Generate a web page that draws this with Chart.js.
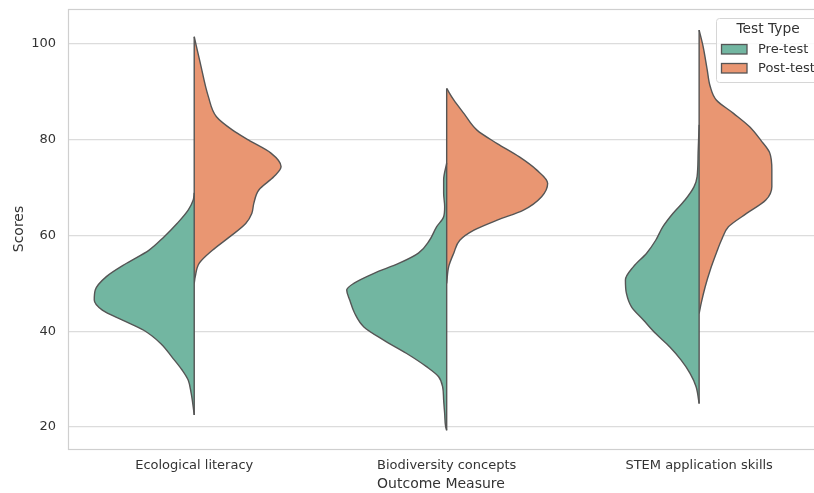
<!DOCTYPE html>
<html>
<head>
<meta charset="utf-8">
<script src="https://cdn.jsdelivr.net/npm/chart.js@4.4.1/dist/chart.umd.min.js"></script>
<style>
html,body{margin:0;padding:0;background:#fff;}
#wrap{width:814px;height:493px;position:relative;}
</style>
</head>
<body>
<div id="wrap"><canvas id="c" width="814" height="493"></canvas></div>
<script>
// ---- data ----
const categories = ['Ecological literacy', 'Biodiversity concepts', 'STEM application skills'];
const seriesNames = ['Pre-test', 'Post-test'];
const yTicks = [20, 40, 60, 80, 100];

// Kernel density profiles (score, relative density) for each half violin
const ecoPreScores   = [68.9, 67.4, 65.3, 62.5, 59.7, 56.9, 54.2, 51.4, 48.6, 46.5, 44.4, 42.3, 40.2, 37.4, 34.6, 31.9, 29.8, 27.0, 24.2, 22.5];
const ecoPreDensity  = [0, 0.01, 0.06, 0.17, 0.30, 0.45, 0.67, 0.87, 0.98, 0.99, 0.91, 0.71, 0.50, 0.33, 0.22, 0.12, 0.06, 0.03, 0.01, 0];
const ecoPostScores  = [101.5, 96.0, 89.0, 84.8, 82.0, 79.9, 77.2, 74.4, 72.3, 69.5, 66.7, 64.6, 62.5, 59.7, 56.9, 54.2, 51.4, 50.0];
const ecoPostDensity = [0, 0.06, 0.14, 0.22, 0.38, 0.54, 0.76, 0.86, 0.79, 0.64, 0.59, 0.57, 0.51, 0.35, 0.18, 0.05, 0.01, 0];

const bioPreScores   = [75.1, 71.6, 68.8, 66.0, 63.9, 61.8, 59.0, 56.3, 54.2, 52.1, 50.0, 48.6, 46.5, 43.7, 40.9, 38.1, 35.4, 32.6, 30.5, 28.4, 25.6, 22.8, 20.0, 19.3];
const bioPreDensity  = [0, 0.03, 0.03, 0.02, 0.03, 0.10, 0.17, 0.28, 0.47, 0.72, 0.92, 0.99, 0.96, 0.91, 0.82, 0.62, 0.40, 0.20, 0.08, 0.04, 0.03, 0.02, 0.01, 0];
const bioPostScores  = [90.7, 88.3, 85.5, 82.0, 79.2, 76.4, 73.7, 70.9, 68.1, 65.3, 63.2, 61.1, 59.0, 56.3, 53.5, 50.0];
const bioPostDensity = [0, 0.07, 0.17, 0.30, 0.50, 0.72, 0.89, 1.00, 0.94, 0.76, 0.50, 0.27, 0.13, 0.07, 0.02, 0];

const stemPreScores   = [83.1, 77.2, 72.3, 70.2, 67.4, 64.6, 61.8, 59.0, 56.3, 53.5, 50.7, 47.9, 45.1, 42.3, 39.5, 36.7, 34.0, 31.2, 28.4, 24.9];
const stemPreDensity  = [0, 0.01, 0.02, 0.05, 0.14, 0.26, 0.36, 0.43, 0.52, 0.65, 0.73, 0.72, 0.67, 0.55, 0.43, 0.29, 0.18, 0.09, 0.03, 0];
const stemPostScores  = [102.9, 99.4, 94.6, 91.1, 88.3, 85.5, 82.7, 79.9, 77.2, 73.7, 70.2, 67.4, 64.6, 61.8, 59.0, 56.3, 52.8, 49.3, 45.8, 43.7];
const stemPostDensity = [0, 0.04, 0.08, 0.11, 0.17, 0.34, 0.50, 0.61, 0.70, 0.72, 0.72, 0.66, 0.47, 0.29, 0.22, 0.17, 0.11, 0.06, 0.02, 0];

// ---- styling ----
const preColor = '#72b6a1';
const postColor = '#e99672';
const edgeColor = '#555555';
const halfWidth = 0.4;
const fontFamily = '"DejaVu Sans", sans-serif';

const halves = [
  {cat: 0, side: -1, s: ecoPreScores,  d: ecoPreDensity,  color: preColor},
  {cat: 0, side:  1, s: ecoPostScores, d: ecoPostDensity, color: postColor},
  {cat: 1, side: -1, s: bioPreScores,  d: bioPreDensity,  color: preColor},
  {cat: 1, side:  1, s: bioPostScores, d: bioPostDensity, color: postColor},
  {cat: 2, side: -1, s: stemPreScores, d: stemPreDensity, color: preColor},
  {cat: 2, side:  1, s: stemPostScores,d: stemPostDensity,color: postColor}
];

const datasets = [];
halves.forEach(h => {
  datasets.push({
    label: h.side < 0 ? seriesNames[0] : seriesNames[1],
    data: h.s.map((v, i) => ({x: h.cat + h.side * h.d[i] * halfWidth, y: v})),
    borderColor: edgeColor,
    borderWidth: 1.4,
    backgroundColor: h.color,
    fill: {value: h.cat},
    pointRadius: 0,
    cubicInterpolationMode: 'monotone',
    order: 2
  });
});
// centre lines
for (let c = 0; c < categories.length; c++) {
  const pair = halves.filter(h => h.cat === c);
  const all = pair.flatMap(h => h.s);
  datasets.push({
    label: 'centre',
    data: [{x: c, y: Math.max(...all)}, {x: c, y: Math.min(...all)}],
    borderColor: edgeColor,
    borderWidth: 1.4,
    pointRadius: 0,
    fill: false,
    order: 1
  });
}

const framePlugin = {
  id: 'frame',
  beforeDatasetsDraw(chart) {
    const {ctx, chartArea: a} = chart;
    ctx.save();
    ctx.strokeStyle = '#cfcfcf';
    ctx.lineWidth = 1.2;
    ctx.strokeRect(a.left + 0.5, a.top + 0.5, a.right - a.left + 5, a.bottom - a.top);
    ctx.restore();
  }
};

const legendPlugin = {
  id: 'customLegend',
  afterDraw(chart) {
    const {ctx} = chart;
    ctx.save();
    const x0 = 716, y0 = 18, w = 115, h = 64;
    ctx.fillStyle = 'rgba(255,255,255,0.85)';
    ctx.strokeStyle = '#d6d6d6';
    ctx.lineWidth = 1;
    ctx.beginPath();
    ctx.roundRect(x0 + 0.5, y0 + 0.5, w, h, 3);
    ctx.fill();
    ctx.stroke();
    ctx.fillStyle = '#333';
    ctx.font = '13.8px ' + fontFamily;
    ctx.textAlign = 'center';
    ctx.textBaseline = 'middle';
    ctx.fillText('Test Type', 768, 29);
    const colors = [preColor, postColor];
    seriesNames.forEach((name, i) => {
      const yy = 44.5 + i * 19;
      ctx.fillStyle = colors[i];
      ctx.fillRect(721.5, yy, 25.5, 9.5);
      ctx.strokeStyle = edgeColor;
      ctx.lineWidth = 1.3;
      ctx.strokeRect(721.5, yy, 25.5, 9.5);
      ctx.fillStyle = '#333';
      ctx.font = '13px ' + fontFamily;
      ctx.textAlign = 'left';
      ctx.fillText(name, 758, yy + 5);
    });
    ctx.restore();
  }
};

new Chart(document.getElementById('c'), {
  type: 'line',
  data: {datasets},
  plugins: [framePlugin, legendPlugin],
  options: {
    indexAxis: 'y',
    responsive: false,
    animation: false,
    layout: {padding: {top: 9, right: 0, left: 0, bottom: 0}},
    plugins: {legend: {display: false}, tooltip: {enabled: false}},
    scales: {
      x: {
        type: 'linear',
        min: -0.5,
        max: 2.455,
        grid: {display: false, drawTicks: false},
        border: {display: false},
        afterBuildTicks: s => { s.ticks = categories.map((_, i) => ({value: i})); },
        afterFit: s => { s.height = 44; s.paddingLeft = 0; s.paddingRight = 0; },
        ticks: {
          padding: 9,
          color: '#333',
          font: {family: fontFamily, size: 13},
          callback: v => categories[v]
        },
        title: {display: true, text: 'Outcome Measure', color: '#333', font: {family: fontFamily, size: 14}, padding: {top: 0, bottom: 0}}
      },
      y: {
        type: 'linear',
        min: 15.4,
        max: 107.3,
        grid: {color: '#dcdcdc', lineWidth: 1.2, drawTicks: false},
        border: {display: false},
        afterBuildTicks: s => { s.ticks = yTicks.map(v => ({value: v})); },
        afterFit: s => { s.width = 68; s.paddingTop = 0; s.paddingBottom = 0; },
        ticks: {
          padding: 12,
          color: '#333',
          font: {family: fontFamily, size: 13}
        },
        title: {display: true, text: 'Scores', color: '#333', font: {family: fontFamily, size: 14}, padding: {top: 11, bottom: 4}}
      }
    }
  }
});
</script>
</body>
</html>
